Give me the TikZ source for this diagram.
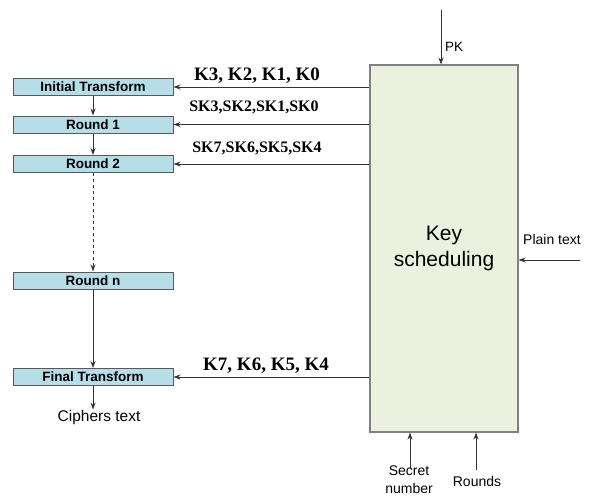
\documentclass[tikz,border=0pt]{standalone}
\usepackage{fontspec}
\setmainfont{Liberation Serif}
\setsansfont{Liberation Sans}
\usetikzlibrary{arrows.meta}
\definecolor{boxblue}{HTML}{B7DDE8}
\definecolor{boxgreen}{HTML}{EBF1DE}
\definecolor{edgegray}{HTML}{595959}
\begin{document}
\begin{tikzpicture}[x=1pt,y=-1pt,
  sbox/.style={draw=edgegray, line width=1pt, fill=boxblue, minimum width=160pt, minimum height=17pt, inner sep=0pt,
    font=\sffamily\bfseries\fontsize{13.5}{15}\selectfont},
  bigbox/.style={draw=gray, line width=1.1pt, fill=boxgreen, minimum width=148pt, minimum height=367pt, inner sep=0pt,
    align=center, font=\sffamily\fontsize{21}{26}\selectfont},
  arr/.style={draw=black!80, line width=0.9pt, -{Stealth[length=7pt,width=5pt]}},
  klab/.style={inner sep=0pt, font=\rmfamily\bfseries\fontsize{19}{22}\selectfont},
  sklab/.style={inner sep=0pt, font=\rmfamily\bfseries\fontsize{16}{18}\selectfont},
  txt/.style={inner sep=0pt, font=\sffamily\fontsize{14}{18}\selectfont, align=center}]
\useasboundingbox (0,0) rectangle (589,496);
% left chain
\node[sbox] (it) at (93,87) {Initial Transform};
\node[sbox] (r1) at (93,124.5) {Round 1};
\node[sbox] (r2) at (93,164) {Round 2};
\node[sbox] (rn) at (93,280.5) {Round n};
\node[sbox] (ft) at (93,377) {Final Transform};
\node[txt, font=\sffamily\fontsize{15.5}{18}\selectfont] (ct) at (99,417) {Ciphers text};
\draw[arr] (it) -- (r1);
\draw[arr] (r1) -- (r2);
\draw[arr, dashed] (r2) -- (rn);
\draw[arr] (rn) -- (ft);
\draw[arr] (ft) -- (ft |- ct.north);
% key scheduling
\node[bigbox] (ks) at (444,248.5) {Key\\scheduling};
\draw[arr] (ks.west |- it.east) -- (it.east);
\draw[arr] (ks.west |- r1.east) -- (r1.east);
\draw[arr] (ks.west |- r2.east) -- (r2.east);
\draw[arr] (ks.west |- ft.east) -- (ft.east);
\node[klab] (l1) at (257,76) {K3, K2, K1, K0};
\node[sklab] (l2) at (254,107) {SK3,SK2,SK1,SK0};
\node[sklab] (l3) at (257,148) {SK7,SK6,SK5,SK4};
\node[klab] (l4) at (266,366) {K7, K6, K5, K4};
% PK
\coordinate (pk) at (441,10);
\draw[arr] (pk) -- (ks.north -| pk);
\node[txt, font=\sffamily\fontsize{13.5}{15}\selectfont] (pkl) at (454,47) {PK};
% plain text
\coordinate (pt) at (580,260);
\draw[arr] (pt) -- (ks.east |- pt);
\node[txt] (ptl) at (552,239) {Plain text};
% bottom inputs
\coordinate (sn) at (410,468);
\draw[arr] (sn) -- (ks.south -| sn);
\coordinate (rd) at (476,470);
\draw[arr] (rd) -- (ks.south -| rd);
\node[txt, font=\sffamily\fontsize{14}{18}\selectfont] (snl) at (409,480) {Secret\\number};
\node[txt] (rdl) at (477,481) {Rounds};
\end{tikzpicture}
\end{document}
